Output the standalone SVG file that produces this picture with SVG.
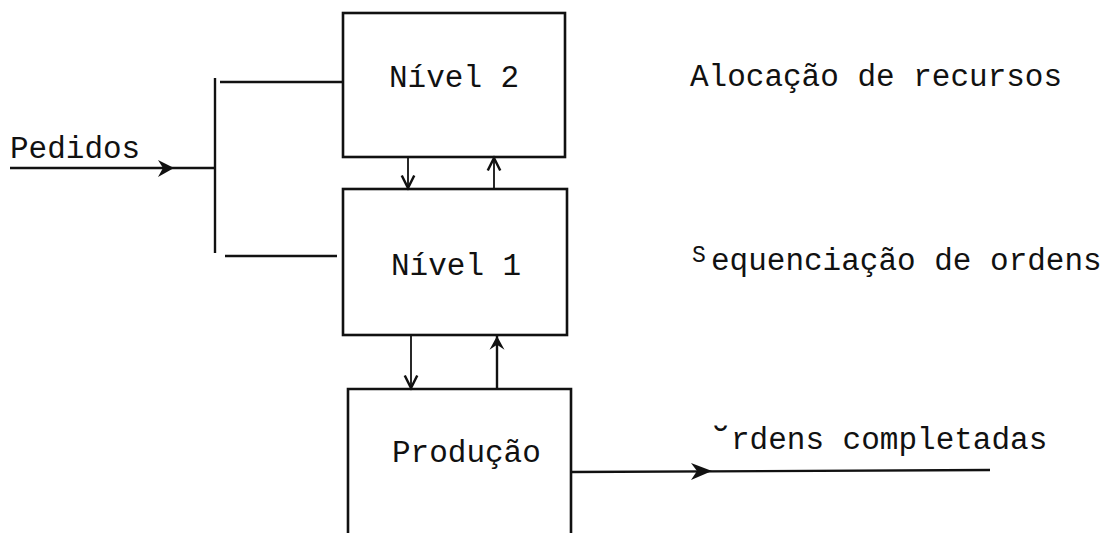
<svg xmlns="http://www.w3.org/2000/svg" width="1113" height="533" viewBox="0 0 1113 533">
  <style>
    .box { fill: none; stroke: #111; stroke-width: 2.6; }
    .ln { fill: none; stroke: #111; stroke-width: 2.4; }
    .thin { fill: none; stroke: #111; stroke-width: 1.8; }
    .t { font-family: "Liberation Mono", "DejaVu Sans Mono", monospace; font-size: 31px; fill: #111; }
    .head { fill: #111; stroke: none; }
  </style>
  <defs>
    <marker id="vhead" markerUnits="userSpaceOnUse" markerWidth="20" markerHeight="20" viewBox="-12 -8 14 16" refX="0" refY="0" orient="auto">
      <path d="M-10,-5 L0,0 L-10,5" fill="none" stroke="#111" stroke-width="2"/>
    </marker>
    <marker id="bhead" markerUnits="userSpaceOnUse" markerWidth="20" markerHeight="20" viewBox="-12 -8 14 16" refX="0" refY="0" orient="auto">
      <path d="M-11,-6 L0,0 L-11,6 L-7,0 z" fill="#111"/>
    </marker>
  </defs>

  <g id="connectors">
    <!-- Pedidos input -->
    <line class="ln" x1="10" y1="168" x2="215" y2="168"/>
    <path class="head" d="M158,160 L174,168 L158,177 L163,168 z"/>
    <!-- bracket -->
    <line class="ln" x1="215" y1="78" x2="215" y2="253"/>
    <line class="ln" x1="220" y1="82" x2="343" y2="82"/>
    <line class="ln" x1="225" y1="256" x2="337" y2="256"/>
    <!-- Nível 2 <-> Nível 1 -->
    <line class="thin" x1="408" y1="157" x2="408" y2="188" marker-end="url(#vhead)"/>
    <line class="thin" x1="494" y1="189" x2="494" y2="158" marker-end="url(#vhead)"/>
    <!-- Nível 1 <-> Produção -->
    <line class="thin" x1="411" y1="335" x2="411" y2="388" marker-end="url(#vhead)"/>
    <line class="ln" x1="497" y1="389" x2="497" y2="336" marker-end="url(#bhead)"/>
    <!-- output -->
    <line class="ln" x1="571" y1="472" x2="990" y2="470"/>
    <path class="head" d="M691,463 L712,471 L691,480 L697,471 z"/>
  </g>

  <g id="node-nivel2">
    <rect class="box" x="343" y="13" width="222" height="144"/>
    <text class="t" x="389" y="87">Nível 2</text>
  </g>
  <g id="node-nivel1">
    <rect class="box" x="343" y="189" width="224" height="146"/>
    <text class="t" x="391" y="275">Nível 1</text>
  </g>
  <g id="node-producao">
    <path class="box" d="M348,533 V389 H571 V533"/>
    <text class="t" x="392" y="462">Produção</text>
  </g>

  <g id="labels">
    <text class="t" x="10" y="158">Pedidos</text>
    <text class="t" x="690" y="86">Alocação de recursos</text>
    <text class="t" y="270"><tspan x="692" y="262" style="font-size:23px">S</tspan><tspan x="711" y="270">equenciação de ordens</tspan></text>
    <text class="t" x="708" y="456" style="font-size:42px">˘</text>
    <text class="t" x="731" y="449">rdens completadas</text>
  </g>
</svg>
